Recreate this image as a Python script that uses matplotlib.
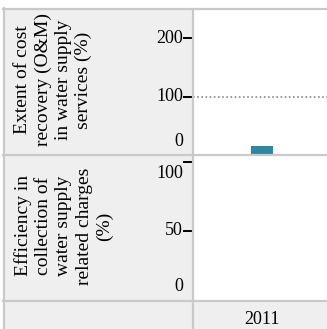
import matplotlib

matplotlib.use("Agg")
import matplotlib.pyplot as plt
import numpy as np
from matplotlib.lines import Line2D
from matplotlib.patches import Rectangle


YEARS = ["2011"]
COST_RECOVERY = [16]
COLLECTION_EFFICIENCY = [np.nan]
ROW_LABELS = [
    "Extent of cost\nrecovery (O&M)\nin water supply\nservices (%)",
    "Efficiency in\ncollection of\nwater supply\nrelated charges\n(%)",
]
COST_TICKS = [0, 100, 200]
EFFICIENCY_TICKS = [0, 50, 100]
BENCHMARK = 100

FONT = "Liberation Serif"
BAR_COLOR = "#2f86a0"
PANEL_GREY = "#efefef"
BORDER_GREY = "#c9c9c9"

W, H = 327, 329


def fx(px):
    return px / W


def fy(py):
    return 1 - py / H


def draw_ticks(ax, ticks, offsets):
    """Draw outward ticks and the tick labels, nudging edge labels inside."""
    ax.set_yticks(ticks)
    ax.set_yticklabels([])
    ax.tick_params(axis="y", direction="out", length=7, width=1.4, color="black")
    ax.tick_params(axis="x", length=0, labelbottom=False)
    for tick, value in zip(ax.yaxis.get_major_ticks(), ticks):
        if value == 0:
            tick.tick1line.set_visible(False)
    for value in ticks:
        dy, va = offsets.get(value, (0, "center"))
        ax.annotate(
            str(value),
            xy=(0, value),
            xycoords=("axes fraction", "data"),
            xytext=(-10, dy),
            textcoords="offset pixels",
            ha="right",
            va=va,
            fontsize=13,
            family=FONT,
        )


def main() -> None:
    fig = plt.figure(figsize=(W / 100, H / 100), dpi=100)
    fig.patch.set_facecolor("white")

    # grey table background
    fig.add_artist(
        Rectangle((fx(3), 0), 1, fy(8), transform=fig.transFigure,
                  facecolor=PANEL_GREY, edgecolor="none", zorder=0)
    )

    left = fx(193)
    top_ax = fig.add_axes([left, fy(155), 1 - left, fy(9) - fy(155)])
    bottom_ax = fig.add_axes([left, fy(300), 1 - left, fy(155) - fy(300)])

    x = np.arange(len(YEARS))
    for ax in (top_ax, bottom_ax):
        ax.set_facecolor("white")
        ax.set_xlim(-0.515, 0.485)
        for spine in ax.spines.values():
            spine.set_visible(False)

    top_ax.bar(x, COST_RECOVERY, width=0.164, color=BAR_COLOR, zorder=3)
    top_ax.axhline(BENCHMARK, color="#8a8a8a", linestyle=(0, (1, 1.5)), linewidth=1.2)
    top_ax.set_ylim(0, 250)
    draw_ticks(top_ax, COST_TICKS, {0: (5, "bottom")})

    bottom_ax.bar(x, COLLECTION_EFFICIENCY, width=0.164, color=BAR_COLOR, zorder=3)
    bottom_ax.set_ylim(0, 105)
    draw_ticks(bottom_ax, EFFICIENCY_TICKS, {0: (5, "bottom"), 100: (-3, "top")})

    # row labels
    for label, center in zip(ROW_LABELS, [80, 226]):
        fig.text(fx(14), fy(center), label, rotation=90, ha="left", va="center",
                 multialignment="center", fontsize=14, family=FONT, linespacing=1.25)

    # year label
    for i, year in enumerate(YEARS):
        fig.text(fx(262 + i * 138), fy(320), year, ha="center", va="center",
                 fontsize=13, family=FONT)

    # table borders
    lines = [
        ((fx(3), 1), (fy(9), fy(9))),
        ((fx(4), fx(4)), (0, fy(8))),
        ((fx(192.5), fx(192.5)), (0, fy(9))),
        ((fx(3), 1), (fy(155), fy(155))),
        ((fx(3), 1), (fy(300.5), fy(300.5))),
    ]
    for xs, ys in lines:
        fig.add_artist(Line2D(xs, ys, transform=fig.transFigure,
                              color=BORDER_GREY, linewidth=1.6, zorder=5))

    fig.savefig("out.png", dpi=100)
    plt.close(fig)


if __name__ == "__main__":
    main()
